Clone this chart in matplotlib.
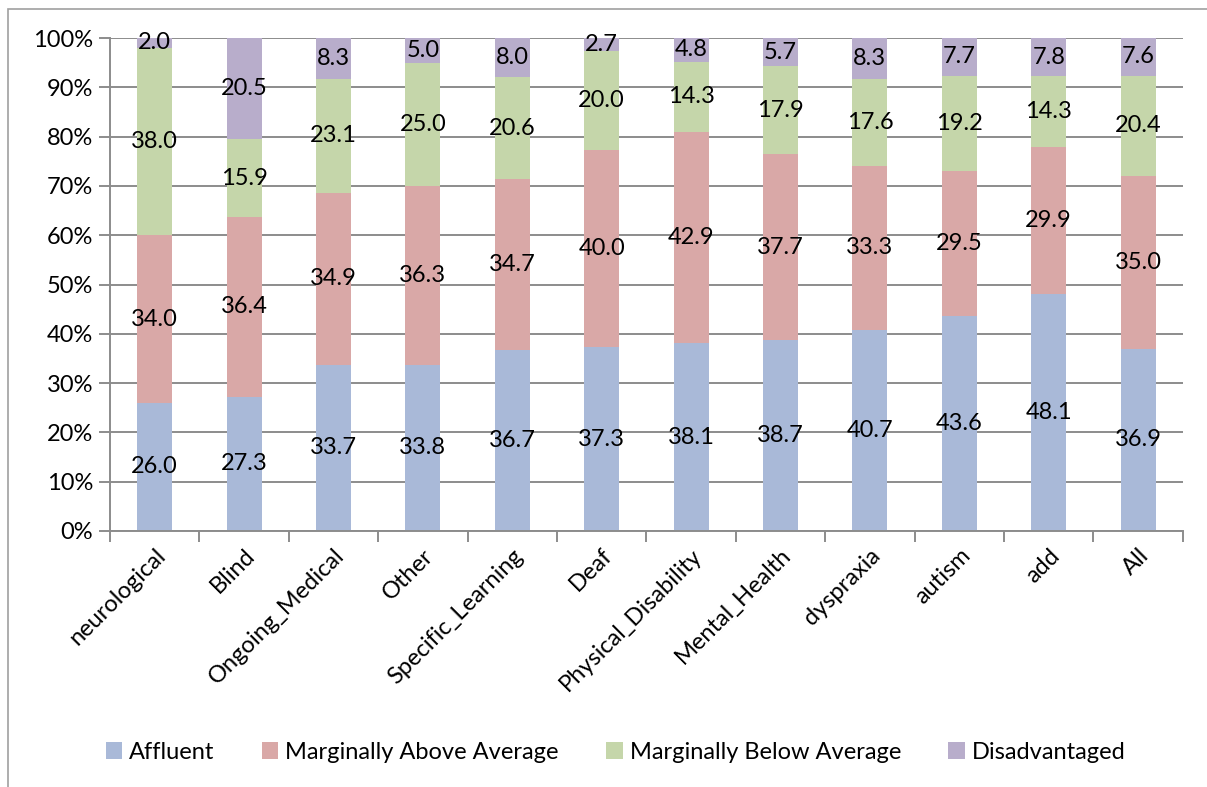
import numpy as np
import matplotlib.pyplot as plt
from matplotlib.patches import Rectangle

plt.rcParams['font.family'] = ['Lato', 'DejaVu Sans']

categories = ['neurological', 'Blind', 'Ongoing_Medical', 'Other', 'Specific_Learning', 'Deaf',
              'Physical_Disability', 'Mental_Health', 'dyspraxia', 'autism', 'add', 'All']
affluent = [26.0, 27.3, 33.7, 33.8, 36.7, 37.3, 38.1, 38.7, 40.7, 43.6, 48.1, 36.9]
above_avg = [34.0, 36.4, 34.9, 36.3, 34.7, 40.0, 42.9, 37.7, 33.3, 29.5, 29.9, 35.0]
below_avg = [38.0, 15.9, 23.1, 25.0, 20.6, 20.0, 14.3, 17.9, 17.6, 19.2, 14.3, 20.4]
disadvantaged = [2.0, 20.5, 8.3, 5.0, 8.0, 2.7, 4.8, 5.7, 8.3, 7.7, 7.8, 7.6]

series = [('Affluent', affluent, '#a9b9d8'),
          ('Marginally Above Average', above_avg, '#d9a8a7'),
          ('Marginally Below Average', below_avg, '#c5d6aa'),
          ('Disadvantaged', disadvantaged, '#b8adcb')]

fs = 17

fig = plt.figure(figsize=(12.07, 7.87), dpi=100)
ax = fig.add_axes([0.0911, 0.3253, 0.8889, 0.6264])

# outer chart border
fig.patches.append(Rectangle((8 / 1207, -0.1), 2, 1 - 9 / 787 + 0.1, transform=fig.transFigure,
                             fill=False, edgecolor='#a0a0a0', linewidth=1.2))

x = np.arange(len(categories))
totals = np.sum([affluent, above_avg, below_avg, disadvantaged], axis=0)
bottom = np.zeros(len(categories))
for name, vals, color in series:
    pct = np.array(vals) / totals * 100
    ax.bar(x, pct, 0.39, bottom=bottom, color=color, label=name, zorder=2)
    for xi, b, p, v in zip(x, bottom, pct, vals):
        ax.text(xi, b + p / 2, f'{v:.1f}', ha='center', va='center', fontsize=fs, zorder=3)
    bottom += pct

ax.set_xlim(-0.5, len(categories) - 0.5)
ax.set_ylim(0, 100)
ax.set_yticks(np.arange(0, 101, 10))
ax.set_yticklabels([f'{v}%' for v in range(0, 101, 10)], fontsize=fs)
ax.yaxis.grid(True, color='#8c8c8c', linewidth=1.4, zorder=0)
ax.set_axisbelow(True)

ax.set_xticks(x)
ax.set_xticklabels(categories, rotation=45, ha='right', rotation_mode='anchor', fontsize=fs)
ax.set_xticks(np.arange(-0.5, len(categories), 1), minor=True)
ax.tick_params(axis='x', which='major', length=0, pad=10)
ax.tick_params(axis='x', which='minor', length=8, width=1.4, color='#8c8c8c')
ax.tick_params(axis='y', length=8, width=1.4, color='#8c8c8c', pad=4)

for side in ['top', 'right']:
    ax.spines[side].set_visible(False)
for side in ['left', 'bottom']:
    ax.spines[side].set_color('#8c8c8c')
    ax.spines[side].set_linewidth(1.4)

fig.legend(loc='center', bbox_to_anchor=(0.51, 0.044), ncol=4, frameon=False, fontsize=fs,
           handlelength=0.7, handleheight=0.7, handletextpad=0.3, columnspacing=2.0)

fig.savefig('out.png', dpi=100)
